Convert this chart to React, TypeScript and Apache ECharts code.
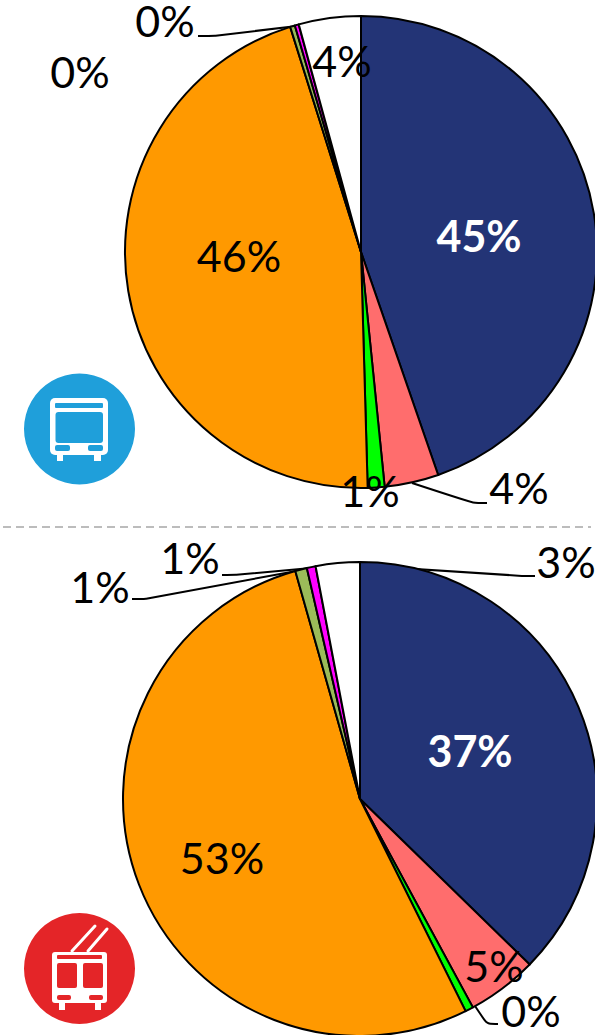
import React, { useEffect, useRef } from "react";
import * as echarts from "echarts";

const sliceNames = ["Navy", "Salmon", "Green", "Orange", "Olive", "Magenta", "Other"];
const sliceColors = ["#233476", "#ff6d6d", "#00ff00", "#ff9900", "#9bbb59", "#ff00ff", "#ffffff"];
const busValues = [44.7, 3.7, 1.15, 45.6, 0.33, 0.27, 4.25];
const busLabels = ["45%", "4%", "1%", "46%", "0%", "0%", "4%"];
const trolleyValues = [37.3, 4.8, 0.55, 52.95, 0.8, 0.6, 3.0];
const trolleyLabels = ["37%", "5%", "0%", "53%", "1%", "1%", "3%"];

type Place = { x: number; y: number; line?: number[][] };
const busPlaces: Place[] = [
  { x: 479, y: 235 },
  { x: 519, y: 487, line: [[412, 483], [473, 503], [487, 503]] },
  { x: 370, y: 490 },
  { x: 239, y: 255 },
  { x: 80, y: 71 },
  { x: 165, y: 20, line: [[297, 26], [215, 36], [198, 36]] },
  { x: 342, y: 60 },
];
const trolleyPlaces: Place[] = [
  { x: 470, y: 750 },
  { x: 494, y: 965 },
  { x: 531, y: 1010, line: [[475, 1006], [487, 1024], [498, 1024]] },
  { x: 222, y: 857 },
  { x: 100, y: 586, line: [[302, 570], [146, 599], [132, 599]] },
  { x: 190, y: 557, line: [[311, 568], [236, 575], [222, 575]] },
  { x: 566, y: 561, line: [[338, 564], [522, 576], [535, 576]] },
];

const FONT = "Lato";

function pieSeries(
  values: number[],
  labels: string[],
  places: Place[],
  center: number[],
  radius: number,
) {
  return {
    type: "pie",
    center,
    radius,
    startAngle: 90,
    clockwise: true,
    avoidLabelOverlap: false,
    silent: true,
    itemStyle: { borderColor: "#000", borderWidth: 2 },
    data: values.map((value, i) => ({
      name: sliceNames[i],
      value,
      itemStyle: { color: sliceColors[i] },
      label: {
        show: true,
        position: "outside",
        formatter: () => labels[i],
        fontFamily: FONT,
        fontSize: 43,
        lineHeight: 36,
        fontWeight: i === 0 ? "bold" : "normal",
        color: i === 0 ? "#ffffff" : "#000000",
      },
      labelLine: {
        show: !!places[i].line,
        smooth: 0.25,
        lineStyle: { color: "#000", width: 2 },
      },
    })),
    labelLayout: (p: any) => {
      const pl = places[p.dataIndex];
      return {
        x: pl.x,
        y: pl.y,
        align: "center",
        verticalAlign: "middle",
        ...(pl.line ? { labelLinePoints: pl.line } : {}),
      };
    },
  };
}

const W = "#ffffff";
const rect = (x0: number, y0: number, x1: number, y1: number, fill: string, r = 0) => ({
  type: "rect",
  shape: { x: x0, y: y0, width: x1 - x0, height: y1 - y0, r },
  style: { fill },
  z: 10,
});
const pole = (x1: number, y1: number, x2: number, y2: number) => ({
  type: "line",
  shape: { x1, y1, x2, y2 },
  style: { stroke: W, lineWidth: 3, lineCap: "round" },
  z: 10,
});

const BLUE = "#1f9fda";
const RED = "#e42528";

const busIcon = [
  { type: "circle", shape: { cx: 79.5, cy: 429, r: 55.5 }, style: { fill: BLUE }, z: 10 },
  rect(50, 398, 108, 455, W, 5),
  rect(57, 455, 63, 461, W),
  rect(94, 455, 101, 461, W),
  rect(55, 403, 103, 408, BLUE, 1),
  rect(55.5, 412, 103, 443, BLUE, 3),
  rect(55, 445, 70, 451, BLUE, 2),
  rect(88, 445, 103, 451, BLUE, 2),
];
const trolleyIcon = [
  { type: "circle", shape: { cx: 79.5, cy: 968.5, r: 55.5 }, style: { fill: RED }, z: 10 },
  pole(72, 951, 95, 926),
  pole(88, 951, 107, 929),
  rect(52, 952, 107, 1003, W, 3),
  rect(59, 1003, 65, 1010, W),
  rect(95, 1003, 101, 1010, W),
  rect(57, 955, 102, 959, RED, 1),
  rect(57, 963, 77, 988, RED, 2),
  rect(83, 963, 103, 988, RED, 2),
  rect(57, 995, 71, 1000, RED, 2),
  rect(89, 995, 103, 1000, RED, 2),
];
const divider = {
  type: "line",
  shape: { x1: 3, y1: 527, x2: 591, y2: 527 },
  style: { stroke: "#a6a6a6", lineWidth: 1.5, lineDash: [8, 5] },
  z: 10,
};

export default function App() {
  const ref = useRef<HTMLDivElement>(null);
  useEffect(() => {
    const chart = echarts.init(ref.current!, undefined, { renderer: "svg" });
    chart.setOption({
      animation: false,
      backgroundColor: "#ffffff",
      series: [
        pieSeries(busValues, busLabels, busPlaces, [361, 252], 236),
        pieSeries(trolleyValues, trolleyLabels, trolleyPlaces, [360, 799], 237),
      ],
      graphic: { elements: [divider, ...busIcon, ...trolleyIcon] },
    });
    return () => chart.dispose();
  }, []);
  return (
    <div
      ref={ref}
      style={{ position: "absolute", left: 0, top: 0, width: 595, height: 1035, overflow: "hidden" }}
    />
  );
}
